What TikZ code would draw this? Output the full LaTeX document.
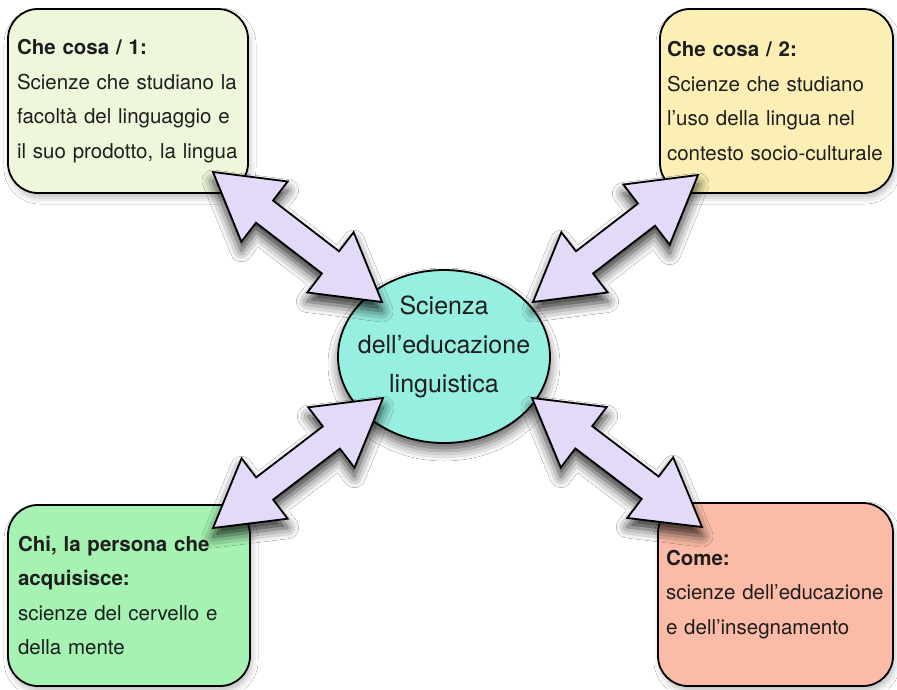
\documentclass[tikz,border=0pt]{standalone}
\usepackage{fontspec}
\setmainfont{TeX Gyre Heros}
\usetikzlibrary{shapes.geometric,shadows.blur,calc}

\definecolor{whatone}{HTML}{EEF7D9}
\definecolor{whattwo}{HTML}{FCEFB5}
\definecolor{whobox}{HTML}{A5F2B3}
\definecolor{howbox}{HTML}{FBBBA6}
\definecolor{coreblue}{HTML}{97EFE1}
\definecolor{lavender}{HTML}{E3D9F8}
\definecolor{ink}{HTML}{1E1E1E}

\tikzset{
  topicbox/.style={draw=black, line width=1.8pt, rounded corners=30pt,
    inner xsep=9pt, inner ysep=0pt, align=left, text=ink,
    font=\fontsize{20.5}{34.5}\selectfont,
    blur shadow={shadow xshift=2pt, shadow yshift=-5pt,
      shadow blur radius=6pt, shadow opacity=25}},
  core/.style={ellipse, draw=black, line width=1.8pt, fill=coreblue,
    inner sep=0pt, minimum width=212pt, minimum height=173pt,
    blur shadow={shadow xshift=0pt, shadow yshift=-8pt,
      shadow blur radius=10pt, shadow opacity=60}},
  coretext/.style={align=center, text=ink, inner sep=0pt,
    font=\fontsize{25}{39}\selectfont},
  dualarrow/.style={draw=black, line width=1.8pt, fill=lavender,
    line join=miter,
    blur shadow={shadow xshift=0pt, shadow yshift=-9pt,
      shadow blur radius=11pt, shadow opacity=80}}
}

% double-headed block arrow between two tip points
\newcommand\twowayarrow[2]{%
  \path[dualarrow] let \p1=(#1), \p2=(#2),
      \n1={atan2(\y2-\y1,\x2-\x1)} in
    (\p1)
    -- ($(\p1)+({\n1+30.31}:75.29pt)$)
    -- ($(\p1)+({\n1+12.15}:66.49pt)$)
    -- ($(\p2)+({\n1+180-12.15}:66.49pt)$)
    -- ($(\p2)+({\n1+180-30.31}:75.29pt)$)
    -- (\p2)
    -- ($(\p2)+({\n1+180+30.31}:75.29pt)$)
    -- ($(\p2)+({\n1+180+12.15}:66.49pt)$)
    -- ($(\p1)+({\n1-12.15}:66.49pt)$)
    -- ($(\p1)+({\n1-30.31}:75.29pt)$)
    -- cycle;}

\begin{document}
\begin{tikzpicture}[x=1pt,y=-1pt]
\useasboundingbox[fill=white] (0,0) rectangle (897,689);

% the four topic boxes
\node[topicbox, fill=whatone, minimum height=184pt,
      text width=222pt] (what1) at (128,101)
  {\textbf{Che cosa / 1:}\\Scienze che studiano la\\facoltà del linguaggio e\\il suo prodotto, la lingua};
\node[topicbox, fill=whattwo, minimum height=184pt,
      text width=219pt, inner xsep=7pt] (what2) at (776.5,101)
  {\textbf{Che cosa / 2:}\\Scienze che studiano\\l’uso della lingua nel\\contesto socio-culturale};
\node[topicbox, fill=whobox, minimum height=181pt,
      text width=222pt, inner xsep=10pt] (who) at (129,595.5)
  {\textbf{Chi, la persona che}\\\textbf{acquisisce:}\\scienze del cervello e\\della mente};
\node[topicbox, fill=howbox, minimum height=183pt,
      text width=219pt, inner xsep=8pt] (how) at (775.5,594.5)
  {\textbf{Come:}\\scienze dell’educazione\\e dell’insegnamento};

% the central topic
\node[core] (core) at (444,356.5) {};
\node[coretext] (corelabel) at ([yshift=10pt]core.center)
  {Scienza\\dell’educazione\\linguistica};

% arrow tips
\coordinate (w1) at (213,172);   \coordinate (c1) at (382,302);
\coordinate (w2) at (698,175);   \coordinate (c2) at (533,302);
\coordinate (h1) at (213,528);   \coordinate (c3) at (383,398);
\coordinate (h2) at (702,527);   \coordinate (c4) at (532,398);

\twowayarrow{w1}{c1}
\twowayarrow{w2}{c2}
\twowayarrow{h1}{c3}
\twowayarrow{h2}{c4}
\end{tikzpicture}
\end{document}
